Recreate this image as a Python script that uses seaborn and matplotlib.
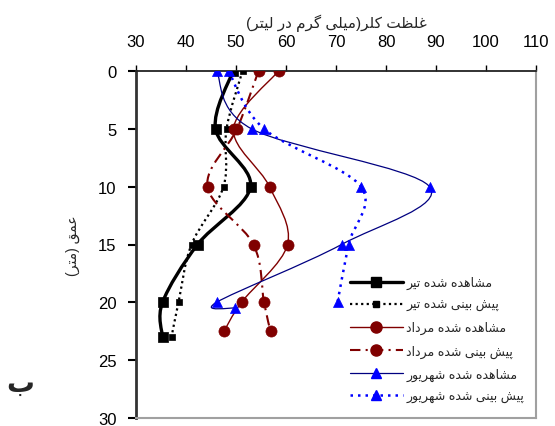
import numpy as np
import pandas as pd
import seaborn as sns
from matplotlib import pyplot as plt
from matplotlib.path import Path
from matplotlib.patches import PathPatch
from matplotlib.lines import Line2D

sns.set_theme(style="ticks")
plt.rcParams['font.family'] = ['Liberation Sans', 'DejaVu Sans']

# depth (m) and chloride concentration (mg/l)
depth_tir = [0, 5, 10, 15, 20, 23]
obs_tir = [49.4, 45.9, 52.9, 42.3, 35.3, 35.3]
pred_tir = [51.3, 48.1, 47.5, 41.1, 38.5, 37.1]

depth_mordad = [0, 5, 10, 15, 20, 22.5]
obs_mordad = [58.5, 49.5, 56.7, 60.3, 51.1, 47.6]
pred_mordad = [54.5, 50.2, 44.3, 53.5, 55.6, 56.9]

depth_shahrivar_obs = [0, 5, 10, 15, 20, 20.5]
obs_shahrivar = [46.1, 53.1, 88.7, 71.1, 46.1, 49.8]
depth_shahrivar_pred = [0, 5, 10, 15, 20]
pred_shahrivar = [48.5, 55.6, 75.0, 72.5, 70.3]

x_ticks = [30, 40, 50, 60, 70, 80, 90, 100, 110]
y_ticks = [0, 5, 10, 15, 20, 25, 30]

labels = ['مشاهده شده تیر', 'پیش بینی شده تیر', 'مشاهده شده مرداد',
          'پیش بینی شده مرداد', 'مشاهده شده شهریور', 'پیش بینی شده شهریور']
x_title = 'غلظت کلر(میلی گرم در لیتر)'
y_title = 'عمق (متر)'
panel = 'ب'

# --- simple persian shaping (matplotlib has no bidi / joining) ---
FORMS = {
    'ا': ('\uFE8D', '\uFE8E'), 'د': ('\uFEA9', '\uFEAA'), 'ر': ('\uFEAD', '\uFEAE'),
    'و': ('\uFEED', '\uFEEE'),
    'ب': ('\uFE8F', '\uFE90', '\uFE91', '\uFE92'), 'پ': ('\uFB56', '\uFB57', '\uFB58', '\uFB59'),
    'ت': ('\uFE95', '\uFE96', '\uFE97', '\uFE98'), 'ش': ('\uFEB5', '\uFEB6', '\uFEB7', '\uFEB8'),
    'ظ': ('\uFEC5', '\uFEC6', '\uFEC7', '\uFEC8'), 'ع': ('\uFEC9', '\uFECA', '\uFECB', '\uFECC'),
    'غ': ('\uFECD', '\uFECE', '\uFECF', '\uFED0'), 'ق': ('\uFED5', '\uFED6', '\uFED7', '\uFED8'),
    'ک': ('\uFB8E', '\uFB8F', '\uFB90', '\uFB91'), 'گ': ('\uFB92', '\uFB93', '\uFB94', '\uFB95'),
    'ل': ('\uFEDD', '\uFEDE', '\uFEDF', '\uFEE0'), 'م': ('\uFEE1', '\uFEE2', '\uFEE3', '\uFEE4'),
    'ن': ('\uFEE5', '\uFEE6', '\uFEE7', '\uFEE8'), 'ه': ('\uFEE9', '\uFEEA', '\uFEEB', '\uFEEC'),
    'ی': ('\uFBFC', '\uFBFD', '\uFBFE', '\uFBFF'),
}


def fa(text):
    out = []
    for i, c in enumerate(text):
        if c not in FORMS:
            out.append(c)
            continue
        f = FORMS[c]
        prev = text[i - 1] if i > 0 else None
        nxt = text[i + 1] if i + 1 < len(text) else None
        jp = prev in FORMS and len(FORMS[prev]) == 4
        jn = nxt in FORMS and len(f) == 4
        if jp and jn:
            out.append(f[3])
        elif jp:
            out.append(f[1])
        elif jn:
            out.append(f[2])
        else:
            out.append(f[0])
    vis = ''.join(out)[::-1]
    return vis.translate(str.maketrans('()', ')('))


def smooth(xs, ys, t=1 / 6):
    # excel-like smoothed line as cubic bezier through the points
    p = np.column_stack([xs, ys]).astype(float)
    n = len(p)
    verts, codes = [p[0]], [Path.MOVETO]
    for i in range(n - 1):
        p0, p1, p2, p3 = p[max(i - 1, 0)], p[i], p[i + 1], p[min(i + 2, n - 1)]
        verts += [p1 + (p2 - p0) * t, p2 - (p3 - p1) * t, p2]
        codes += [Path.CURVE4] * 3
    return Path(verts, codes)


series = [
    (obs_tir, depth_tir, 'black', 2.4, '-', 's', 42, 6.5),
    (pred_tir, depth_tir, 'black', 1.6, (0, (1, 1.5)), 's', 14, 3.8),
    (obs_mordad, depth_mordad, '#800000', 1.0, '-', 'o', 64, 8),
    (pred_mordad, depth_mordad, '#800000', 1.5, (0, (5, 2.5, 1, 2.5)), 'o', 64, 8),
    (obs_shahrivar, depth_shahrivar_obs, '#000080', 0.9, '-', '^', 52, 7),
    (pred_shahrivar, depth_shahrivar_pred, '#0000FF', 1.8, (0, (1, 2)), '^', 52, 7),
]

fig = plt.figure(figsize=(5.55, 4.27), dpi=100)
ax = fig.add_axes([136 / 555, 1 - 419 / 427, 400 / 555, 347 / 427])

handles = []
for i, (xv, yv, col, lw, ls, mk, s, ms) in enumerate(series):
    lc = '#0000FF' if mk == '^' else col
    ax.add_patch(PathPatch(smooth(xv, yv), fill=False, edgecolor=col, lw=lw, linestyle=ls, zorder=2))
    sns.scatterplot(x=xv, y=yv, marker=mk, s=s, color=lc, edgecolor=lc, linewidth=0.5, ax=ax,
                    legend=False, zorder=3)
    handles.append(Line2D([], [], color=col, lw=lw, ls=ls, marker=mk, ms=ms,
                          markerfacecolor=lc, markeredgecolor=lc))

ax.set_xlim(30, 110)
ax.set_ylim(30, 0)
ax.set_xticks(x_ticks)
ax.set_yticks(y_ticks)
ax.xaxis.tick_top()
ax.xaxis.set_label_position('top')
ax.tick_params(axis='x', length=4, width=1, pad=12, labelsize=12, colors='black')
ax.tick_params(axis='y', length=6, width=1.5, pad=8, labelsize=12, colors='black')

ax.spines['left'].set_color('#333333')
ax.spines['left'].set_linewidth(2)
ax.spines['top'].set_color('#222222')
ax.spines['top'].set_linewidth(1.3)
for side in ['right', 'bottom']:
    ax.spines[side].set_visible(True)
    ax.spines[side].set_color('#a0a0a0')
    ax.spines[side].set_linewidth(1.5)

ax.set_xlabel(fa(x_title), fontsize=11)
ax.xaxis.set_label_coords(0.5, 1.127)
ax.set_ylabel(fa(y_title), fontsize=10)
ax.yaxis.set_label_coords(-0.14, 0.5)

ax.legend(handles, [fa(l) for l in labels], loc='upper left',
          bbox_to_anchor=(350 / 555, 1 - 277 / 427), bbox_transform=fig.transFigure,
          frameon=False, fontsize=9, handlelength=4.2, handletextpad=0.3,
          labelspacing=0.8, borderpad=0, borderaxespad=0)

fig.text(20 / 555, 1 - 385 / 427, fa(panel), fontsize=20, fontweight='bold', ha='center', va='center')

fig.savefig('out.png', dpi=100)
